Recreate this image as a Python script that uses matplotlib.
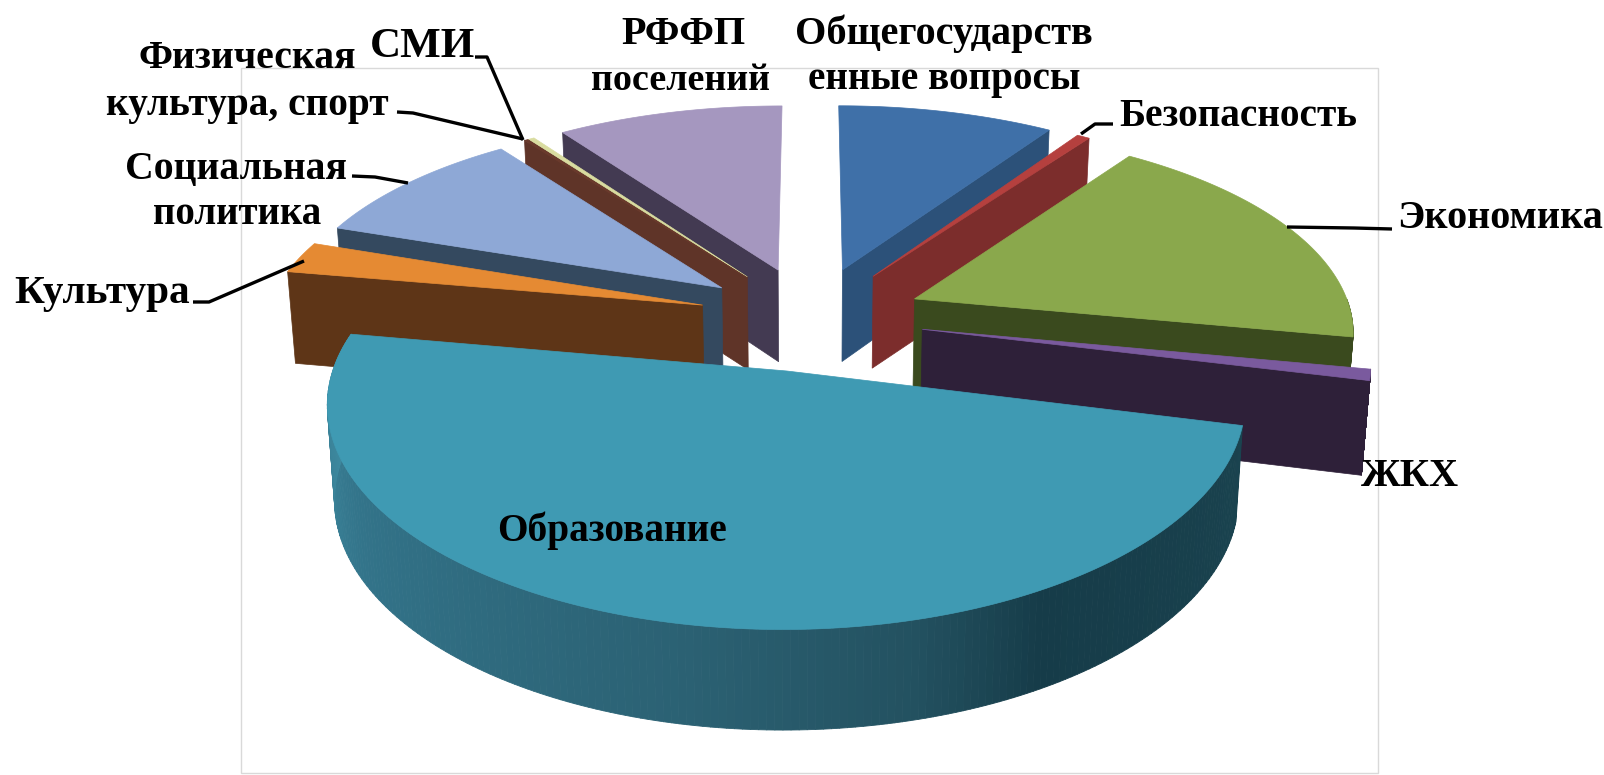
"""3D exploded pie of budget shares, drawn as projected polygons."""

import numpy as np
import matplotlib
matplotlib.use("Agg")
import matplotlib.pyplot as plt
from matplotlib.collections import PolyCollection
from matplotlib.colors import to_rgb
from matplotlib.patches import Polygon, Rectangle

# clockwise from 12 o'clock
categories = ["Общегосударственные вопросы", "Безопасность", "Экономика", "ЖКХ",
              "Образование", "Культура", "Социальная политика",
              "Физическая культура, спорт", "СМИ", "РФФП поселений"]
shares = [9.3, 0.55, 18.17, 0.85, 48.9, 2.5, 9.6, 0.15, 0.25, 9.73]

top_colors = ["#3f70a8", "#b5403e", "#8aa84c", "#7a5a9e", "#3f9ab3",
              "#e58a33", "#8ea8d6", "#6a3a2c", "#d9dca0", "#a597bf"]
wall_colors = ["#2c5179", "#7c2d2c", "#3a4a1e", "#2e2039", "#2b6173",
               "#5e3517", "#34495f", "#5f3428", "#5f3428", "#433a52"]
# back to front
draw_order = [9, 0, 8, 7, 1, 6, 2, 5, 3, 4]

side_angles = [104, 150, 165, 190, 240, 280]
side_colors = ["#1a434f", "#163c49", "#235160", "#2b6173", "#33748a", "#4190a6"]

# projection of the pie plane to the picture
CX, CY = 811, 318
RX, RY = 438, 202
KX, KY = 0.14, 0.15
EXPLODE = 0.258
DEPTH, KH = 93, 0.06
TAPER = 0.985

labels = [
    ("Общегосударств", 944, 34, 29), ("енные вопросы", 944, 80, 28.2),
    ("РФФП", 683, 34, 29), ("поселений", 680, 80, 27.4),
    ("СМИ", 423, 47, 31), ("Физическая", 247, 59, 28.6),
    ("культура, спорт", 247, 105, 28.4), ("Социальная", 236, 169, 28.6),
    ("политика", 237, 215, 28), ("Культура", 102, 294, 29.7),
    ("Безопасность", 1238, 117, 28.3), ("Экономика", 1500, 219, 29),
    ("ЖКХ", 1410, 476, 29), ("Образование", 612, 531, 28.4),
]
leaders = [
    [(475, 57), (487, 57), (523, 140)],
    [(397, 112), (413, 113), (523, 139)],
    [(352, 176), (375, 177), (408, 183)],
    [(193, 302), (209, 302), (304, 261)],
    [(1113, 124), (1095, 124), (1081, 134)],
    [(1287, 227), (1354, 228), (1392, 229)],
]


def project(x, y, bottom=False):
    sx = CX + RX * x / (1 + KX * y)
    sy = CY - RY * y / (1 + KY * y)
    if bottom:
        sx = CX + (sx - CX) * TAPER
        sy = sy + DEPTH / (1 + KH * y)
    return np.column_stack([sx, sy])


def unit(a_deg):
    a = np.radians(a_deg)
    return np.sin(a), np.cos(a)


fig = plt.figure(figsize=(16.04, 7.75), dpi=100)
ax = fig.add_axes([0, 0, 1, 1])
ax.set_xlim(0, 1604)
ax.set_ylim(775, 0)
ax.axis("off")

ax.add_patch(Rectangle((241, 68), 1137, 705, fill=False, ec="#d9d9d9", lw=1, zorder=0))

edges = np.concatenate([[0], np.cumsum(shares)]) / np.sum(shares) * 360

for z, i in enumerate(draw_order):
    a0, a1 = edges[i], edges[i + 1]
    mid = (a0 + a1) / 2
    ex, ey = unit(mid)
    ox, oy = ex * EXPLODE, ey * EXPLODE
    arc = np.linspace(a0, a1, 200 if a1 - a0 > 20 else 40)
    ux, uy = unit(arc)
    ax_, ay_ = ox + ux, oy + uy

    # cut face turned to the viewer
    if a1 - a0 < 120:
        cut = a1 if mid < 180 else a0
        cx_, cy_ = unit(cut)
        px = np.array([ox, ox + cx_])
        py = np.array([oy, oy + cy_])
        quad = np.vstack([project(px, py), project(px, py, True)[::-1]])
        ax.add_patch(Polygon(quad, fc=wall_colors[i], ec=wall_colors[i], lw=0.5, zorder=z * 3 + 1))

    # outer rim, front half only (the big slice keeps its rim up to its end)
    front = (arc >= 90) & (arc <= 270)
    if i == 4:
        front = np.ones_like(arc, dtype=bool)
    if front.sum() > 1:
        top = project(ax_[front], ay_[front])
        low = project(ax_[front], ay_[front], True)
        quads = [[top[k], top[k + 1], low[k + 1], low[k]] for k in range(len(top) - 1)]
        if i == 4:
            rgb = np.array([to_rgb(c) for c in side_colors])
            seg = arc[front][:-1]
            cols = np.column_stack([np.interp(seg, side_angles, rgb[:, n]) for n in range(3)])
        else:
            cols = [wall_colors[i]] * len(quads)
        ax.add_collection(PolyCollection(quads, facecolors=cols, edgecolors=cols, lw=0.6, zorder=z * 3 + 1))

    face = np.vstack([project(np.array([ox]), np.array([oy])), project(ax_, ay_)])
    ax.add_patch(Polygon(face, fc=top_colors[i], ec=top_colors[i], lw=0.5, zorder=z * 3 + 2))

for pts in leaders:
    xs, ys = zip(*pts)
    ax.plot(xs, ys, color="black", lw=2.4, solid_capstyle="butt", zorder=60)

for text, x, y, size in labels:
    ax.text(x, y, text, ha="center", va="center", fontsize=size, fontweight="bold",
            family="Liberation Serif", color="black", zorder=70)

fig.savefig("out.png", dpi=100)
plt.close(fig)
